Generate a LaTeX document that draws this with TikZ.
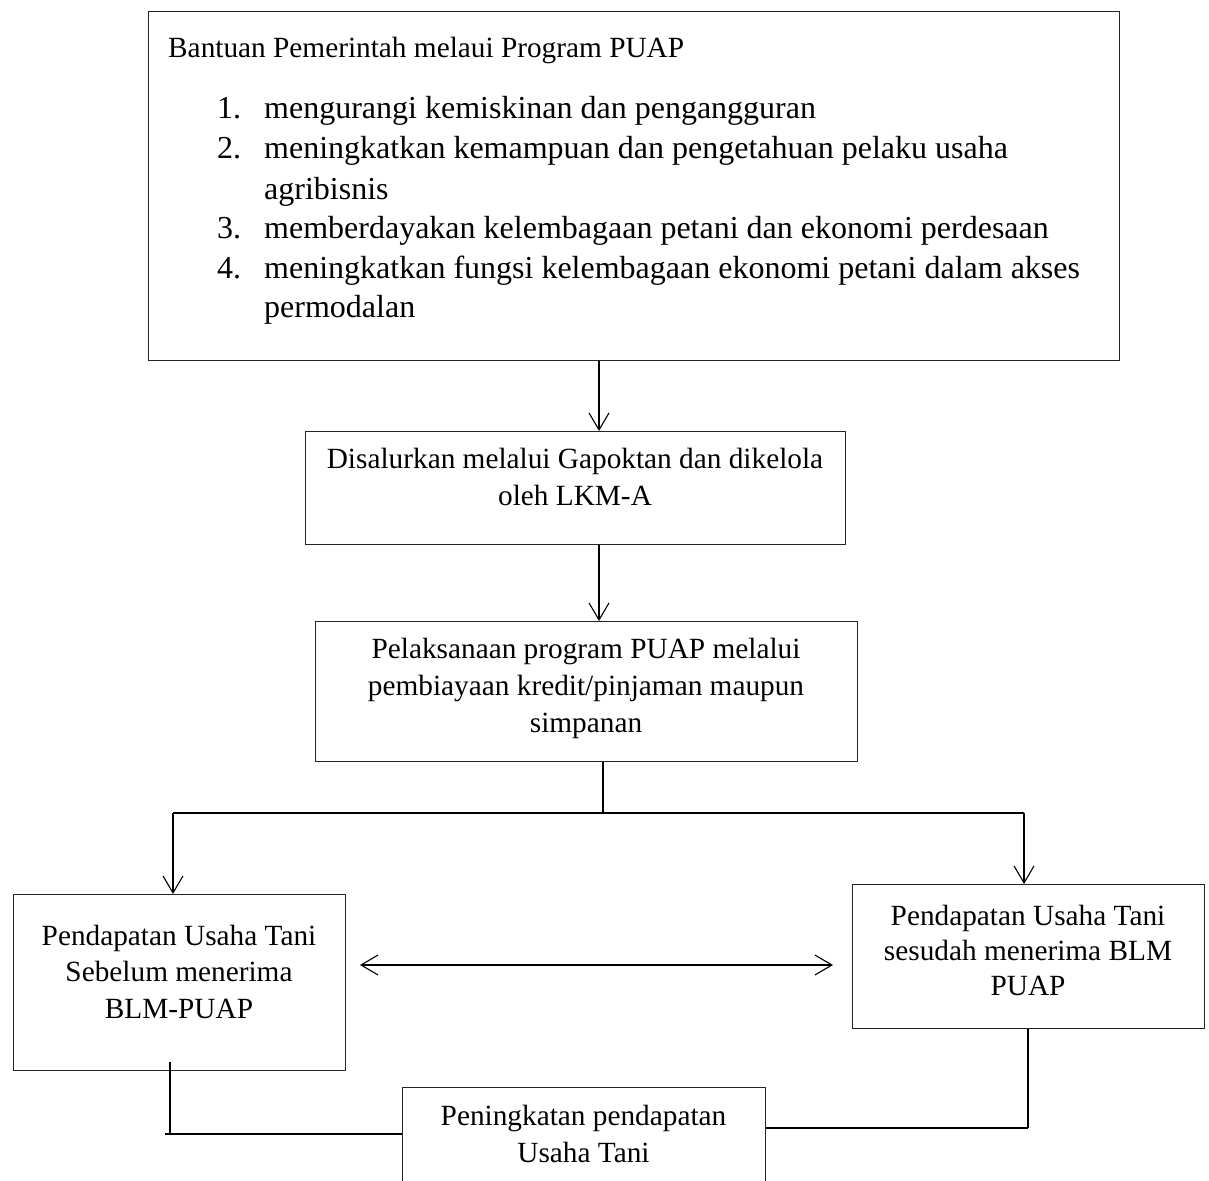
\documentclass[tikz,border=0pt]{standalone}
\usepackage{fontspec}
\setmainfont{Liberation Serif}
\usetikzlibrary{arrows.meta}
\begin{document}
\begin{tikzpicture}[x=1pt,y=-1pt,
  box/.style={draw=black!85, line width=1.1pt, inner sep=0pt, anchor=north west},
  txt/.style={inner sep=0pt, anchor=base, font=\fontsize{29.3}{37}\selectfont},
  txtl/.style={txt, anchor=base west},
  item/.style={txtl, font=\fontsize{32}{40}\selectfont},
  conn/.style={line width=1.1pt},
  heavy/.style={line width=1.9pt},
  tip/.tip={Straight Barb[length=17pt,width=20pt,line width=1.1pt]},
  arr/.style={conn, -tip},
  dblarr/.style={conn, tip-tip}]
\useasboundingbox (0,0) rectangle (1209,1180);

% boxes
\node[box, minimum width=971pt, minimum height=349pt] (top) at (148,11) {};
\node[box, minimum width=540pt, minimum height=113pt] (b2) at (305,431) {};
\node[box, minimum width=542pt, minimum height=140pt] (b3) at (315,621) {};
\node[box, minimum width=332pt, minimum height=176pt] (lb) at (13,894) {};
\node[box, minimum width=352pt, minimum height=144pt] (rb) at (852,884) {};
\node[box, minimum width=363pt, minimum height=130pt] (bb) at (402,1087) {};

% top box text
\node[txtl] (t0) at (168,58) {Bantuan Pemerintah melaui Program PUAP};
\node[item] (n1) at (217,118) {1.};
\node[item] (i1) at (264,118) {mengurangi kemiskinan dan pengangguran};
\node[item] (n2) at (217,158) {2.};
\node[item] (i2) at (264,158) {meningkatkan kemampuan dan pengetahuan pelaku usaha};
\node[item] (i2b) at (264,199) {agribisnis};
\node[item] (n3) at (217,238) {3.};
\node[item] (i3) at (264,238) {memberdayakan kelembagaan petani dan ekonomi perdesaan};
\node[item] (n4) at (217,278) {4.};
\node[item] (i4) at (264,278) {meningkatkan fungsi kelembagaan ekonomi petani dalam akses};
\node[item] (i4b) at (264,317) {permodalan};

% box 2 text
\node[txt] (b2a) at (575,468) {Disalurkan melalui Gapoktan dan dikelola};
\node[txt] (b2b) at (575,505) {oleh LKM-A};

% box 3 text
\node[txt] (b3a) at (586,658) {Pelaksanaan program PUAP melalui};
\node[txt] (b3b) at (586,695) {pembiayaan kredit/pinjaman maupun};
\node[txt] (b3c) at (586,732) {simpanan};

% left box text
\node[txt] (lba) at (179,945) {Pendapatan Usaha Tani};
\node[txt] (lbb) at (179,981) {Sebelum menerima};
\node[txt] (lbc) at (179,1018) {BLM-PUAP};

% right box text
\node[txt] (rba) at (1028,925) {Pendapatan Usaha Tani};
\node[txt] (rbb) at (1028,960) {sesudah menerima BLM};
\node[txt] (rbc) at (1028,995) {PUAP};

% bottom box text
\node[txt] (bba) at (583.5,1125) {Peningkatan pendapatan};
\node[txt] (bbb) at (583.5,1162) {Usaha Tani};

% connector coordinates
\coordinate (a1) at (599,0);
\coordinate (sp) at (603,813);
\coordinate (jl) at (173,813);
\coordinate (jr) at (1024,813);
\coordinate (da1) at (360,965);
\coordinate (da2) at (833,965);
\coordinate (ls) at (170,1062);
\coordinate (lc) at (170,1134);
\coordinate (lc0) at (165,1134);
\coordinate (rc) at (1028,1128);

% connectors
\draw[arr] (top.south -| a1) -- (b2.north -| a1);
\draw[arr] (b2.south -| a1) -- (b3.north -| a1);
\draw[conn] (b3.south -| sp) -- (sp);
\draw[conn] (jl) -- (jr);
\draw[arr] (jl) -- (lb.north -| jl);
\draw[arr] (jr) -- (rb.north -| jr);
\draw[dblarr] (da1) -- (da2);
\draw[conn] (ls) -- (lc);
\draw[heavy] (lc0) -- (bb.west |- lc);
\draw[conn] (rb.south -| rc) -- (rc);
\draw[heavy] (bb.east |- rc) -- (rc);
\end{tikzpicture}
\end{document}
